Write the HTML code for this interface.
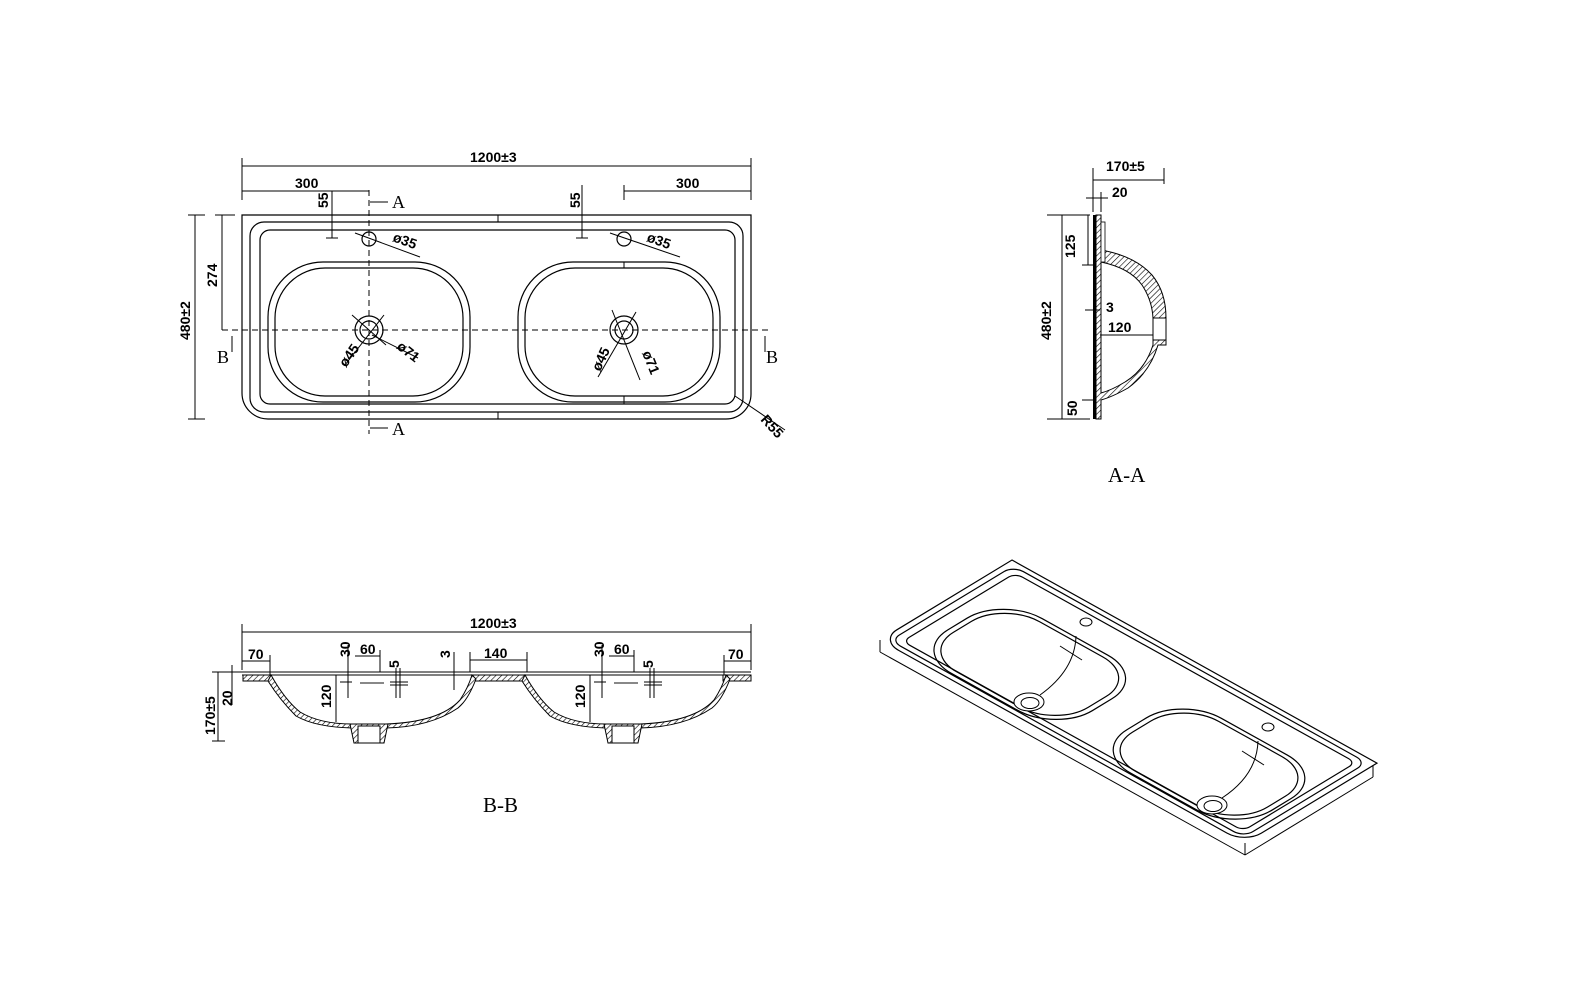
<!DOCTYPE html>
<html><head><meta charset="utf-8"><style>
html,body{margin:0;padding:0;background:#fff;}
svg{display:block;font-family:"Liberation Sans Narrow","Liberation Sans",sans-serif;}
text{font-size:14px;fill:#000;font-weight:bold;}
.s{font-family:"Liberation Serif",serif;font-size:18px;font-weight:normal;}
</style></head><body>
<svg width="1582" height="1002" viewBox="0 0 1582 1002" xmlns="http://www.w3.org/2000/svg">
<defs>
<pattern id="h" width="4" height="4" patternUnits="userSpaceOnUse" patternTransform="rotate(45)">
<rect width="4" height="4" fill="#fff"/><line x1="0" y1="0" x2="0" y2="4" stroke="#000" stroke-width="1.2"/></pattern>
<g id="rim" fill="none" stroke="#000" stroke-width="1.2">
<path d="M242 215 H751 V394 A25 25 0 0 1 726 419 H268 A26 26 0 0 1 242 393 Z" vector-effect="non-scaling-stroke"/>
<rect x="250" y="222" width="493" height="190" rx="14" vector-effect="non-scaling-stroke"/>
<rect x="260" y="230" width="475" height="174" rx="10" vector-effect="non-scaling-stroke"/>
</g>
<g id="bas" fill="none" stroke="#000" stroke-width="1.2">
<rect x="268" y="262" width="202" height="140" rx="55" vector-effect="non-scaling-stroke"/>
<rect x="275" y="268" width="188" height="128" rx="50" vector-effect="non-scaling-stroke"/>
<rect x="518" y="262" width="202" height="140" rx="55" vector-effect="non-scaling-stroke"/>
<rect x="525" y="268" width="188" height="128" rx="50" vector-effect="non-scaling-stroke"/>
</g>
</defs>

<!-- TOP VIEW -->
<use href="#rim"/><use href="#bas"/>
<g fill="none" stroke="#000" stroke-width="1.2">
<circle cx="369" cy="330" r="14"/><circle cx="369" cy="330" r="9"/>
<circle cx="624" cy="330" r="14"/><circle cx="624" cy="330" r="9"/>
<circle cx="369" cy="239" r="7"/><circle cx="624" cy="239" r="7"/>
</g>
<g stroke="#000" stroke-width="1" fill="none">
<line x1="369" y1="190" x2="369" y2="434" stroke-dasharray="6 4"/>
<line x1="222" y1="330" x2="768" y2="330" stroke-dasharray="6 4"/>
<line x1="498" y1="215" x2="498" y2="222"/><line x1="498" y1="412" x2="498" y2="419"/>
<line x1="624" y1="262" x2="624" y2="268"/><line x1="624" y1="396" x2="624" y2="404"/>
<line x1="242" y1="158" x2="242" y2="200"/><line x1="751" y1="158" x2="751" y2="200"/>
<line x1="242" y1="166" x2="751" y2="166"/>
<line x1="242" y1="191" x2="369" y2="191"/><line x1="624" y1="191" x2="751" y2="191"/>
<line x1="624" y1="185" x2="624" y2="200"/>
<line x1="332" y1="191" x2="332" y2="238"/><line x1="326" y1="238" x2="338" y2="238"/>
<line x1="582" y1="185" x2="582" y2="238"/><line x1="576" y1="238" x2="588" y2="238"/>
<line x1="370" y1="202" x2="388" y2="202"/><line x1="370" y1="428" x2="388" y2="428"/>
<line x1="188" y1="215" x2="205" y2="215"/><line x1="188" y1="419" x2="205" y2="419"/>
<line x1="195" y1="215" x2="195" y2="419"/>
<line x1="215" y1="215" x2="235" y2="215"/><line x1="222" y1="215" x2="222" y2="330"/>
<line x1="232" y1="352" x2="232" y2="336"/><line x1="765" y1="352" x2="765" y2="336"/>
<line x1="355" y1="233" x2="420" y2="257"/><line x1="610" y1="233" x2="680" y2="257"/>
<line x1="352" y1="315" x2="386" y2="345"/><line x1="384" y1="315" x2="345" y2="365"/><line x1="372" y1="335" x2="418" y2="358"/>
<line x1="612" y1="310" x2="640" y2="380"/><line x1="636" y1="312" x2="598" y2="377"/>
<line x1="735" y1="396" x2="785" y2="430"/>
</g>
<text x="470" y="162">1200±3</text>
<text x="295" y="188">300</text><text x="676" y="188">300</text>
<text transform="translate(328,208) rotate(-90)">55</text>
<text transform="translate(580,208) rotate(-90)">55</text>
<text class="s" x="392" y="208">A</text><text class="s" x="392" y="435">A</text>
<text class="s" x="217" y="363">B</text><text class="s" x="766" y="363">B</text>
<text transform="translate(190,340) rotate(-90)">480±2</text>
<text transform="translate(217,287) rotate(-90)">274</text>
<text transform="translate(392,241) rotate(20)">ø35</text>
<text transform="translate(646,241) rotate(20)">ø35</text>
<text transform="translate(346,368) rotate(-55)">ø45</text>
<text transform="translate(396,348) rotate(38)">ø71</text>
<text transform="translate(600,372) rotate(-65)">ø45</text>
<text transform="translate(642,353) rotate(68)">ø71</text>
<text transform="translate(760,420) rotate(48)">R55</text>

<!-- A-A SECTION -->
<rect x="1093" y="215" width="3" height="204" fill="#000"/>
<path d="M1096 215 H1101 V250 Q1135 256 1152 275 Q1166 292 1166 318 V345 H1158 Q1150 372 1128 388 Q1112 397 1101 400 V419 H1096 Z" fill="url(#h)" stroke="#000" stroke-width="1"/>
<path d="M1101 262 Q1130 268 1142 285 Q1152 300 1153 318 V345 Q1145 370 1125 382 Q1112 390 1101 393 Z" fill="#fff" stroke="#000" stroke-width="1"/>
<rect x="1101" y="222" width="4" height="40" fill="#fff" stroke="#000" stroke-width="0.8"/>
<rect x="1153" y="318" width="13" height="22" fill="#fff" stroke="#000"/>
<g stroke="#000" stroke-width="1" fill="none">
<line x1="1093" y1="168" x2="1093" y2="212"/><line x1="1164" y1="168" x2="1164" y2="184"/>
<line x1="1093" y1="180" x2="1164" y2="180"/>
<line x1="1086" y1="198" x2="1108" y2="198"/><line x1="1101" y1="192" x2="1101" y2="212"/>
<line x1="1047" y1="215" x2="1090" y2="215"/><line x1="1047" y1="419" x2="1090" y2="419"/>
<line x1="1062" y1="215" x2="1062" y2="419"/>
<line x1="1082" y1="265" x2="1095" y2="265"/><line x1="1088" y1="215" x2="1088" y2="265"/>
<line x1="1085" y1="310" x2="1100" y2="310"/>
<line x1="1100" y1="335" x2="1153" y2="335"/>
<line x1="1082" y1="400" x2="1095" y2="400"/>
</g>
<text x="1106" y="171">170±5</text><text x="1112" y="197">20</text>
<text transform="translate(1051,340) rotate(-90)">480±2</text>
<text transform="translate(1075,258) rotate(-90)">125</text>
<text x="1106" y="312">3</text><text x="1108" y="332">120</text>
<text transform="translate(1077,416) rotate(-90)">50</text>
<text class="s" x="1108" y="482" style="font-size:21px">A-A</text>

<!-- B-B SECTION -->
<g stroke="#000" stroke-width="1" fill="none">
<line x1="242" y1="624" x2="242" y2="670"/><line x1="751" y1="624" x2="751" y2="670"/>
<line x1="242" y1="632" x2="751" y2="632"/>
<line x1="212" y1="672" x2="751" y2="672"/><line x1="242" y1="675" x2="751" y2="675"/>
<line x1="242" y1="661" x2="270" y2="661"/><line x1="270" y1="655" x2="270" y2="675"/>
<line x1="724" y1="661" x2="751" y2="661"/><line x1="724" y1="655" x2="724" y2="675"/>
<line x1="470" y1="660" x2="527" y2="660"/><line x1="470" y1="652" x2="470" y2="672"/><line x1="527" y1="652" x2="527" y2="672"/>
<line x1="454" y1="652" x2="454" y2="690"/>
<line x1="348" y1="645" x2="348" y2="698"/><line x1="355" y1="656" x2="380" y2="656"/><line x1="380" y1="650" x2="380" y2="672"/>
<line x1="396" y1="668" x2="396" y2="698"/><line x1="400" y1="668" x2="400" y2="698"/><line x1="390" y1="682" x2="408" y2="682"/><line x1="390" y1="685" x2="408" y2="685"/>
<line x1="340" y1="682" x2="352" y2="682"/>
<line x1="602" y1="645" x2="602" y2="698"/><line x1="609" y1="656" x2="634" y2="656"/><line x1="634" y1="650" x2="634" y2="672"/>
<line x1="650" y1="668" x2="650" y2="698"/><line x1="654" y1="668" x2="654" y2="698"/><line x1="644" y1="682" x2="662" y2="682"/><line x1="644" y1="685" x2="662" y2="685"/>
<line x1="594" y1="682" x2="606" y2="682"/>
<line x1="336" y1="675" x2="336" y2="722"/><line x1="590" y1="675" x2="590" y2="722"/>
<line x1="232" y1="665" x2="232" y2="705"/><line x1="212" y1="741" x2="225" y2="741"/><line x1="218" y1="672" x2="218" y2="741"/>
</g>
<rect x="360" y="682" width="24" height="2" fill="#888"/><rect x="614" y="682" width="24" height="2" fill="#888"/>
<g fill="url(#h)" stroke="#000" stroke-width="1">
<rect x="243" y="675" width="28" height="6"/>
<rect x="472" y="675" width="53" height="6"/>
<rect x="723" y="675" width="28" height="6"/>
<path d="M271 675 Q285 700 300 712 Q320 724 352 724 H386 Q440 722 460 700 Q468 688 472 675 L476 679 Q468 700 458 708 Q430 727 386 728 H352 Q315 727 296 716 Q280 700 268 681 Z"/>
<path d="M525 675 Q539 700 554 712 Q574 724 606 724 H640 Q694 722 714 700 Q722 688 726 675 L730 679 Q722 700 712 708 Q684 727 640 728 H606 Q569 727 550 716 Q534 700 522 681 Z"/>
<path d="M350 724 H388 L384 743 H354 Z"/><path d="M604 724 H642 L638 743 H608 Z"/>
</g>
<rect x="358" y="726" width="22" height="17" fill="#fff" stroke="#000"/>
<rect x="612" y="726" width="22" height="17" fill="#fff" stroke="#000"/>
<text x="470" y="628">1200±3</text>
<text x="248" y="659">70</text><text x="728" y="659">70</text>
<text x="484" y="658">140</text>
<text x="360" y="654">60</text><text x="614" y="654">60</text>
<text transform="translate(350,657) rotate(-90)">30</text><text transform="translate(604,657) rotate(-90)">30</text>
<text transform="translate(399,668) rotate(-90)">5</text><text transform="translate(653,668) rotate(-90)">5</text>
<text transform="translate(450,658) rotate(-90)">3</text>
<text transform="translate(331,708) rotate(-90)">120</text><text transform="translate(585,708) rotate(-90)">120</text>
<text transform="translate(215,735) rotate(-90)">170±5</text>
<text transform="translate(232,706) rotate(-90)">20</text>
<text class="s" x="483" y="812" style="font-size:21px">B-B</text>

<!-- ISOMETRIC -->
<use href="#rim" transform="matrix(0.717 0.399 -0.647 0.392 977.6 379.2)"/>
<use href="#bas" transform="matrix(0.717 0.399 -0.647 0.392 980 387)"/>
<g fill="none" stroke="#000" stroke-width="1">
<line x1="880" y1="640" x2="880" y2="652"/>
<line x1="880" y1="652" x2="1245" y2="855"/>
<line x1="1245" y1="843" x2="1245" y2="855"/>
<line x1="1245" y1="855" x2="1373" y2="777"/>
<line x1="1373" y1="765" x2="1373" y2="777"/>
<g fill="#fff">
<ellipse cx="1029" cy="702" rx="15" ry="9"/><ellipse cx="1030" cy="703" rx="9" ry="5.5"/>
<ellipse cx="1212" cy="805" rx="15" ry="9"/><ellipse cx="1213" cy="806" rx="9" ry="5.5"/>
</g>
<ellipse cx="1086" cy="622" rx="6" ry="4"/><ellipse cx="1268" cy="727" rx="6" ry="4"/>
<path d="M1076 636 Q1075 670 1040 695"/>
<path d="M1258 741 Q1257 775 1222 798"/>
<line x1="1060" y1="646" x2="1082" y2="660"/>
<line x1="1242" y1="751" x2="1264" y2="765"/>
</g>
</svg>
</body></html>
